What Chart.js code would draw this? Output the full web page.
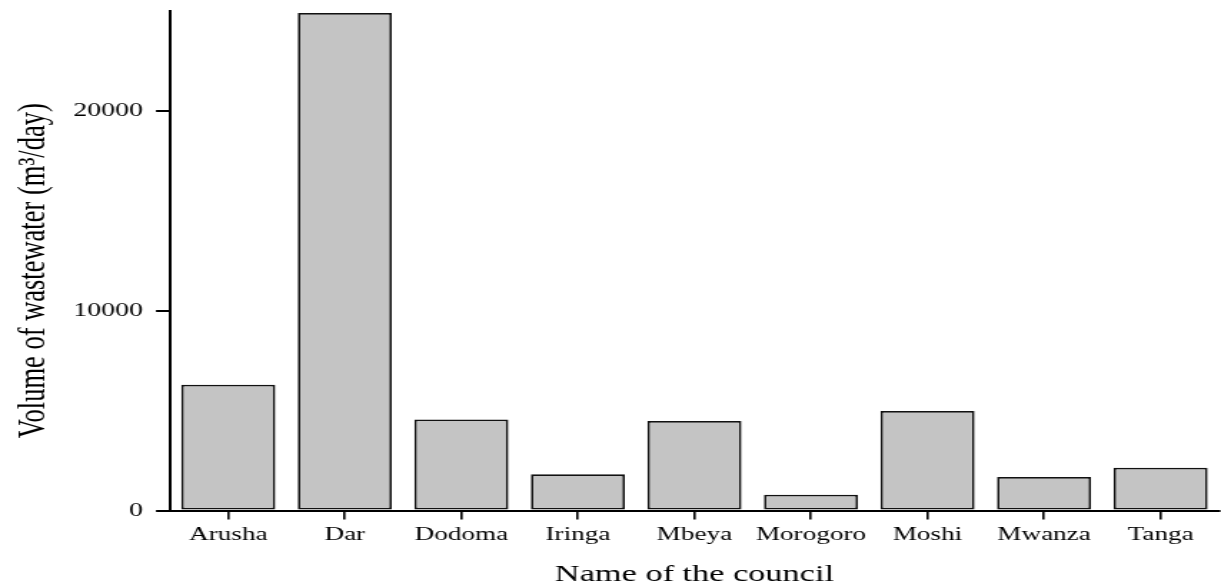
<!DOCTYPE html>
<html>
<head>
<meta charset="utf-8">
<script src="https://cdn.jsdelivr.net/npm/chart.js@4.4.1/dist/chart.umd.min.js"></script>
<style>
  html, body { margin: 0; padding: 0; background: #ffffff; overflow: hidden; }
  #wrap { width: 854px; height: 587px; transform: scaleX(1.4297); transform-origin: 0 0; }
  canvas { display: block; }
</style>
</head>
<body>
<div id="wrap"><canvas id="c" width="854" height="587"></canvas></div>
<script>
// ---- data ----
const councils = ["Arusha", "Dar", "Dodoma", "Iringa", "Mbeya", "Morogoro", "Moshi", "Mwanza", "Tanga"];
const volumes = [6300, 24900, 4560, 1810, 4480, 790, 4980, 1680, 2140];
const yTickValues = [0, 10000, 20000];
const yMin = 0;
const yMax = 25000;
const xTitle = "Name of the council";
const yTitle = "Volume of wastewater (m\u00b3/day)";

const serif = "'Liberation Serif', 'Times New Roman', Times, serif";

new Chart(document.getElementById('c'), {
  type: 'bar',
  data: {
    labels: councils,
    datasets: [{
      data: volumes,
      backgroundColor: '#c4c4c4',
      borderColor: '#111111',
      borderWidth: 1.8,
      borderSkipped: false,
      barPercentage: 0.807,
      categoryPercentage: 1.0
    }]
  },
  options: {
    responsive: false,
    animation: false,
    devicePixelRatio: 1,
    layout: { padding: { top: 11, right: 1.5, left: 0, bottom: 0 } },
    plugins: { legend: { display: false }, tooltip: { enabled: false } },
    scales: {
      x: {
        type: 'category',
        offset: true,
        afterFit: (s) => { s.height = 76.5; s.paddingLeft = 0; s.paddingRight = 0; },
        grid: {
          display: true, drawOnChartArea: false, drawTicks: true,
          offset: false, tickLength: 9, color: '#000', lineWidth: 1.6
        },
        border: { display: true, color: '#000', width: 2 },
        ticks: {
          color: '#000', padding: 6.5, maxRotation: 0, autoSkip: false,
          font: { family: serif, size: 19, lineHeight: 1 }
        },
        title: {
          display: true, text: xTitle, color: '#000',
          font: { family: serif, size: 24, lineHeight: 1 },
          padding: { top: 0, bottom: 0 }
        }
      },
      y: {
        min: yMin, max: yMax,
        afterFit: (s) => { s.width = 118.9; s.paddingTop = 0; s.paddingBottom = 0; },
        afterBuildTicks: (s) => { s.ticks = yTickValues.map(v => ({ value: v })); },
        grid: {
          display: true, drawOnChartArea: false, drawTicks: true,
          tickLength: 9.8, color: '#000', lineWidth: 2
        },
        border: { display: true, color: '#000', width: 2 },
        ticks: {
          color: '#000', padding: 9,
          font: { family: serif, size: 19.5, lineHeight: 1 },
          callback: (v) => String(v)
        },
        title: {
          display: true, text: yTitle + "\u00a0\u00a0\u00a0", color: '#000',
          font: { family: serif, size: 26.5, lineHeight: 1 },
          padding: { top: 10.8, bottom: 0 }
        }
      }
    }
  }
});
</script>
</body>
</html>
